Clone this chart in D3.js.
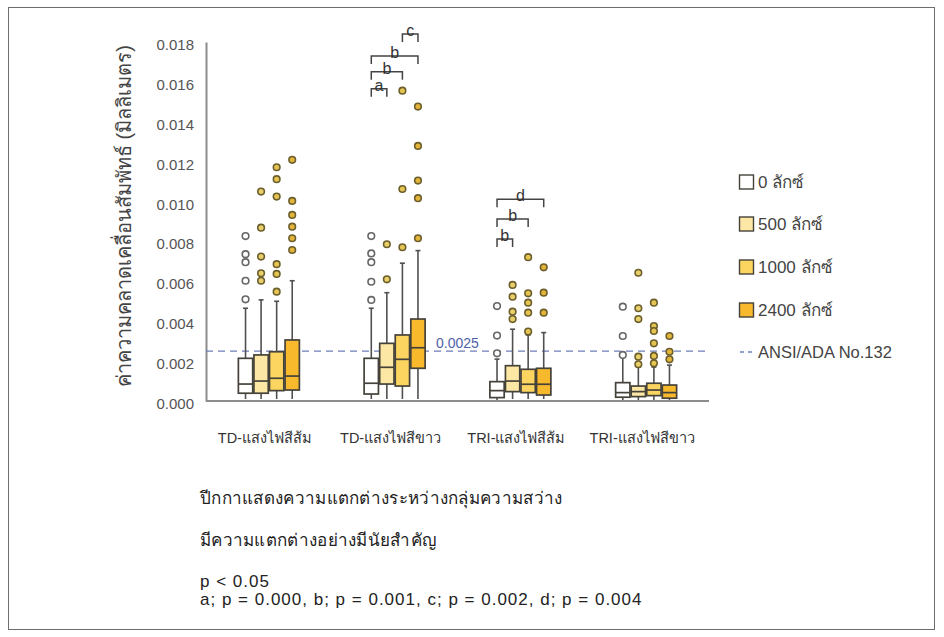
<!DOCTYPE html>
<html>
<head>
<meta charset="utf-8">
<script src="https://cdn.jsdelivr.net/npm/d3@7"></script>
<style>
  body { margin: 0; background: #fff; }
  svg text { font-family: "Liberation Sans", "Noto Sans", Arial, sans-serif; }
</style>
</head>
<body>
<svg id="chart"></svg>
<script>
// categories and series
const categories = ["TD-แสงไฟสีส้ม", "TD-แสงไฟสีขาว", "TRI-แสงไฟสีส้ม", "TRI-แสงไฟสีขาว"]
const seriesNames = ["0 ลักซ์", "500 ลักซ์", "1000 ลักซ์", "2400 ลักซ์"]

// box stats per category: [whisker low, q1, median, q3, whisker high]
const boxLux0 = [
    [0.0001, 0.00039, 0.00085, 0.00214, 0.00465],
    [0.0001, 0.00035, 0.00089, 0.00214, 0.00465],
    [0.00005, 0.00017, 0.00052, 0.00097, 0.0021],
    [0.00005, 0.00019, 0.00042, 0.00092, 0.0022]
]
const boxLux500 = [
    [0.0001, 0.00039, 0.0010, 0.00231, 0.00507],
    [0.0001, 0.00085, 0.00169, 0.00289, 0.00543],
    [0.0001, 0.00047, 0.0010, 0.00177, 0.0036],
    [0.00005, 0.00022, 0.00047, 0.00075, 0.0017]
]
const boxLux1000 = [
    [0.0001, 0.00052, 0.00114, 0.00247, 0.0050],
    [0.0001, 0.00075, 0.00209, 0.00331, 0.00691],
    [0.0001, 0.00042, 0.00084, 0.00159, 0.00331],
    [0.00005, 0.00027, 0.00055, 0.00089, 0.0017]
]
const boxLux2400 = [
    [0.0001, 0.00055, 0.00125, 0.00306, 0.00603],
    [0.0001, 0.00164, 0.00267, 0.00411, 0.00754],
    [0.0001, 0.0003, 0.00084, 0.00164, 0.00343],
    [0.00005, 0.00014, 0.00042, 0.0008, 0.0018]
]

// outliers per category
const outLux0 = [
    [0.00827, 0.00736, 0.00696, 0.00603, 0.0051],
    [0.00827, 0.0074, 0.00696, 0.00598, 0.00507],
    [0.00476, 0.00328, 0.00239],
    [0.00473, 0.00326, 0.00231]
]
const outLux500 = [
    [0.0105, 0.00869, 0.00724, 0.0064, 0.00603],
    [0.00786, 0.0061],
    [0.00582, 0.00523, 0.00448, 0.00411],
    [0.00643, 0.00465, 0.00411, 0.00222, 0.00184]
]
const outLux1000 = [
    [0.01172, 0.01112, 0.01025, 0.00686, 0.00637, 0.00548],
    [0.01556, 0.01063, 0.00771],
    [0.00721, 0.0054, 0.00493, 0.00443, 0.00348],
    [0.00493, 0.00376, 0.00351, 0.00289, 0.00226, 0.00189]
]
const outLux2400 = [
    [0.01209, 0.01003, 0.00933, 0.00874, 0.00816, 0.00757],
    [0.01476, 0.01279, 0.01105, 0.01017, 0.00816],
    [0.0067, 0.00543, 0.00443],
    [0.00326, 0.00247, 0.00209]
]

const yTicks = [0, 0.002, 0.004, 0.006, 0.008, 0.010, 0.012, 0.014, 0.016, 0.018]
const ansiLimit = 0.0025

// significance brackets: category, from series, to series, height (value), letter
const bracketCat = [1, 1, 1, 1, 2, 2, 2]
const bracketFrom = [0, 0, 0, 2, 0, 0, 0]
const bracketTo = [1, 2, 3, 3, 1, 2, 3]
const bracketY = [0.01565, 0.01651, 0.0173, 0.0184, 0.00812, 0.00913, 0.01012]
const bracketLabel = ["a", "b", "b", "c", "b", "b", "d"]

const notes = [
    "ปีกกาแสดงความแตกต่างระหว่างกลุ่มความสว่าง",
    "มีความแตกต่างอย่างมีนัยสำคัญ",
    "p < 0.05",
    "a; p = 0.000, b; p = 0.001, c; p = 0.002, d; p = 0.004"
]

const fills = ["#ffffff", "#fce7a4", "#fcd561", "#f8b92c"]
const dotFills = ["#ffffff", "#e8cf6a", "#e6c452", "#e3b43a"]

const svg = d3.select("#chart")
    .attr("width", 944)
    .attr("height", 637)

svg.append("rect")
    .attr("x", 8.5).attr("y", 7.5)
    .attr("width", 926).attr("height", 622)
    .attr("fill", "#fff")
    .attr("stroke", "#6e6e6e")

var x0 = d3.scaleBand().domain(categories).range([206, 709])
var x1 = d3.scaleBand().domain(seriesNames).range([-30.5, 30.5]).paddingInner(0.08)
var y = d3.scaleLinear().domain([0, 0.018]).range([401, 42])

// y axis
var yAxis = svg.append("g")
    .attr("transform", "translate(206,0)")
    .call(d3.axisLeft(y).tickValues(yTicks).tickFormat(d3.format(".3f")).tickSize(0).tickPadding(12))
yAxis.select(".domain").attr("stroke", "#8c8c8c").attr("stroke-width", 2)
yAxis.selectAll("text").attr("font-size", 15).attr("fill", "#555").attr("dy", "0.5em")

svg.append("text")
    .attr("transform", "translate(131,216) rotate(-90)")
    .attr("text-anchor", "middle")
    .attr("font-size", 20)
    .attr("fill", "#444")
    .text("ค่าความคลาดเคลื่อนสัมพัทธ์ (มิลลิเมตร)")

// x axis line + labels
svg.append("line")
    .attr("x1", 206).attr("x2", 709)
    .attr("y1", y(0)).attr("y2", y(0))
    .attr("stroke", "#8c8c8c").attr("stroke-width", 2)

svg.selectAll(".cat")
    .data(categories)
    .join("text")
    .attr("x", d => x0(d) + x0.bandwidth() / 2 - 4)
    .attr("y", 443)
    .attr("text-anchor", "middle")
    .attr("font-size", 14.5)
    .attr("fill", "#333")
    .text(d => d)

// ANSI line
svg.append("line")
    .attr("x1", 206).attr("x2", 709)
    .attr("y1", y(ansiLimit)).attr("y2", y(ansiLimit))
    .attr("stroke", "#6f7db8").attr("stroke-width", 1.3)
    .attr("stroke-dasharray", "7,5")

svg.append("text")
    .attr("x", 436).attr("y", y(ansiLimit) - 3)
    .attr("font-size", 14)
    .attr("fill", "#4e61a8")
    .text(ansiLimit.toFixed(4))

// boxes
var boxes = [boxLux0, boxLux500, boxLux1000, boxLux2400]
var outs = [outLux0, outLux500, outLux1000, outLux2400]

for (var s in seriesNames) {
    for (var c in categories) {
        var st = boxes[s][c]
        var bx = x0(categories[c]) + x0.bandwidth() / 2 + x1(seriesNames[s])
        var bw = x1.bandwidth()
        var cx = bx + bw / 2
        var g = svg.append("g")

        g.append("line")
            .attr("x1", cx).attr("x2", cx)
            .attr("y1", y(st[0])).attr("y2", y(st[4]))
            .attr("stroke", "#505050").attr("stroke-width", 1.6)
        g.append("line")
            .attr("x1", cx - 2.5).attr("x2", cx + 2.5)
            .attr("y1", y(st[4])).attr("y2", y(st[4]))
            .attr("stroke", "#505050").attr("stroke-width", 1.6)
        g.append("rect")
            .attr("x", bx).attr("y", y(st[3]))
            .attr("width", bw).attr("height", y(st[1]) - y(st[3]))
            .attr("fill", fills[s])
            .attr("stroke", "#45423a").attr("stroke-width", 1.7)
        g.append("line")
            .attr("x1", bx).attr("x2", bx + bw)
            .attr("y1", y(st[2])).attr("y2", y(st[2]))
            .attr("stroke", "#45423a").attr("stroke-width", 1.7)

        g.selectAll("circle")
            .data(outs[s][c])
            .join("circle")
            .attr("cx", cx)
            .attr("cy", d => y(d))
            .attr("r", 3.3)
            .attr("fill", dotFills[s])
            .attr("stroke", s == 0 ? "#666" : "#6b5e2c")
            .attr("stroke-width", 1.6)
    }
}

// brackets
for (var i in bracketLabel) {
    var cc = x0(categories[bracketCat[i]]) + x0.bandwidth() / 2
    var xa = cc + x1(seriesNames[bracketFrom[i]]) + x1.bandwidth() / 2
    var xb = cc + x1(seriesNames[bracketTo[i]]) + x1.bandwidth() / 2
    var yb = y(bracketY[i])
    svg.append("path")
        .attr("d", "M" + xa + "," + (yb + 8) + "V" + yb + "H" + xb + "V" + (yb + 8))
        .attr("fill", "none")
        .attr("stroke", "#444").attr("stroke-width", 1.5)
    svg.append("text")
        .attr("x", (xa + xb) / 2).attr("y", yb + 2)
        .attr("text-anchor", "middle")
        .attr("font-size", 16)
        .attr("fill", "#333")
        .text(bracketLabel[i])
}

// legend
var legend = svg.append("g")
var legendY = [182, 224, 267, 310]
for (var s in seriesNames) {
    legend.append("rect")
        .attr("x", 739.5).attr("y", legendY[s] - 7)
        .attr("width", 14).attr("height", 14)
        .attr("fill", fills[s])
        .attr("stroke", "#45423a").attr("stroke-width", 1.4)
    legend.append("text")
        .attr("x", 758).attr("y", legendY[s] + 6)
        .attr("font-size", 17).attr("fill", "#444")
        .text(seriesNames[s])
}
legend.append("line")
    .attr("x1", 740).attr("x2", 754)
    .attr("y1", 352).attr("y2", 352)
    .attr("stroke", "#6f7db8").attr("stroke-width", 1.3)
    .attr("stroke-dasharray", "4,4")
legend.append("text")
    .attr("x", 758).attr("y", 358)
    .attr("font-size", 16.5).attr("fill", "#444")
    .text("ANSI/ADA No.132")

// notes
var noteY = [504, 546, 587, 605]
svg.selectAll(".note")
    .data(notes)
    .join("text")
    .attr("x", 200)
    .attr("y", (d, i) => noteY[i])
    .attr("font-size", 17)
    .attr("letter-spacing", (d, i) => i > 1 ? "1px" : "0.3px")
    .attr("fill", "#222")
    .text(d => d)
</script>
</body>
</html>
